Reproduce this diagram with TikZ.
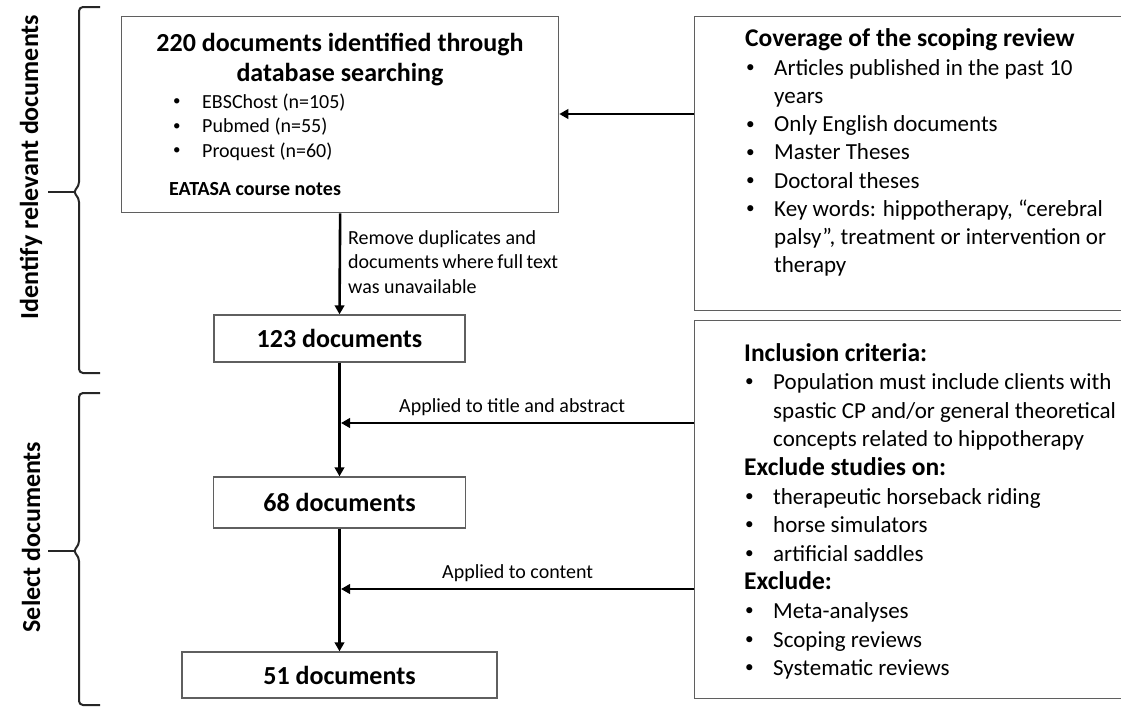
\documentclass[tikz,border=0pt]{standalone}
\usepackage{fontspec}
\setmainfont{Carlito}
\usetikzlibrary{arrows.meta,calc}
\definecolor{boxgray}{RGB}{95,95,95}
\newcommand\bul[2][29pt]{\par\hangindent=#1\hangafter=1\noindent\makebox[#1][l]{\hspace{1pt}\raisebox{0.12em}{\scalebox{0.75}{\textbullet}}}#2}
\newcommand\nl{\hfil\break}
\newcommand\headfont{\bfseries\fontsize{26}{30}\selectfont}
\tikzset{
  box/.style={draw=boxgray, line width=1.3pt, inner sep=0pt, fill=white},
  arr/.style={line width=2.6pt, -{Triangle[length=9pt,width=9.5pt]}},
  brace/.style={line width=2pt, draw=black!85, rounded corners=4pt},
  txt/.style={inner sep=0pt, anchor=base west},
}
\begin{document}
\begin{tikzpicture}[x=1pt,y=-1pt]
\useasboundingbox (0,0) rectangle (1121,707);
\clip (0,0) rectangle (1121,707);
\fill[white] (0,0) rectangle (1121,707);

% boxes
\node[box, minimum width=437pt, minimum height=196pt, anchor=north west] (b1) at (121,16) {};
\node[box, minimum width=251pt, minimum height=47pt, font=\headfont] (b123) at (339.5,338.5) {123 documents};
\node[box, minimum width=252pt, minimum height=51pt, font=\headfont] (b68) at (339.5,502.5) {68 documents};
\node[box, minimum width=315pt, minimum height=46pt, font=\headfont] (b51) at (339.5,675) {51 documents};
\node[box, minimum width=460pt, minimum height=294pt, anchor=north west] (cov) at (694,16) {};
\node[box, minimum width=460pt, minimum height=378pt, anchor=north west] (inc) at (694,320) {};

% text of box 1
\node[inner sep=0pt, anchor=base] (b1title) at (340,51) {\begin{minipage}[t]{437pt}\centering\headfont
220 documents identified through\\database searching\end{minipage}};
\node[txt] (b1list) at (172,108) {\begin{minipage}[t]{300pt}\fontsize{20}{24.5}\selectfont
\bul[30pt]{EBSChost (n=105)}
\bul[30pt]{Pubmed (n=55)}
\bul[30pt]{Proquest (n=60)}\end{minipage}};
\node[txt, font=\bfseries\fontsize{20}{24}\selectfont] (b1notes) at (169,195) {EATASA course notes};

% coverage text
\node[txt] (covtxt) at (745,46) {\begin{minipage}[t]{372pt}\raggedright\fontsize{23}{28.1}\selectfont
{\bfseries\fontsize{25.5}{28.1}\selectfont Coverage of the scoping review\par}\vspace{1.5pt}
\bul{Articles published in the past 10\nl years}
\bul{Only English documents}
\bul{Master Theses}
\bul{Doctoral theses}
\bul{Key words: hippotherapy, “cerebral\nl palsy”, treatment or intervention or\nl therapy}\end{minipage}};

% inclusion text
\node[txt] (inctxt) at (744,361) {\begin{minipage}[t]{377pt}\raggedright\fontsize{23}{28.6}\selectfont
{\bfseries\fontsize{25.5}{28.6}\selectfont Inclusion criteria:\par}
\bul{Population must include clients with\nl spastic CP and/or general theoretical\nl concepts related to hippotherapy}
{\par\bfseries\fontsize{25.5}{28.6}\selectfont Exclude studies on:\par}
\bul{therapeutic horseback riding}
\bul{horse simulators}
\bul{artificial saddles}
{\par\bfseries\fontsize{25.5}{28.6}\selectfont Exclude:\par}
\bul{Meta-analyses}
\bul{Scoping reviews}
\bul{Systematic reviews}\end{minipage}};

% connectors
\draw[arr] (b1.south) -- (b123.north);
\draw[arr] (b123.south) -- (b68.north);
\draw[arr] (b68.south) -- (b51.north);
\coordinate (c1) at (694,114);
\draw[arr] (c1) -- (c1 -| b1.east);
\coordinate (j1) at (341,423);
\coordinate (j2) at (341,589);
\draw[arr] (j1 -| inc.west) -- (j1);
\draw[arr] (j2 -| inc.west) -- (j2);

% connector labels
\node[txt] (lremove) at (348,244) {\begin{minipage}[t]{210pt}\fontsize{20}{24.5}\selectfont
Remove duplicates and\\documents where full text\\was unavailable\end{minipage}};
\node[txt, font=\fontsize{20}{24}\selectfont] (ltitle) at (399,412) {Applied to title and abstract};
\node[txt, font=\fontsize{20}{24}\selectfont] (lcontent) at (442,578) {Applied to content};

% braces
\draw[brace] (100,7) -- (79,7) -- (79,186) -- (73,192) -- (79,198) -- (79,373) -- (100,373);
\draw[line width=2pt, draw=black!85] (48,192) -- (74,192);
\draw[brace] (100,393) -- (79,393) -- (79,545) -- (73,551) -- (79,557) -- (79,705) -- (100,705);
\draw[line width=2pt, draw=black!85] (48,551) -- (74,551);

% phase labels
\node[rotate=90, font=\headfont, inner sep=0pt] (lid) at (31,167) {Identify relevant documents};
\node[rotate=90, font=\headfont, inner sep=0pt] (lsel) at (31,537) {Select documents};
\end{tikzpicture}
\end{document}
